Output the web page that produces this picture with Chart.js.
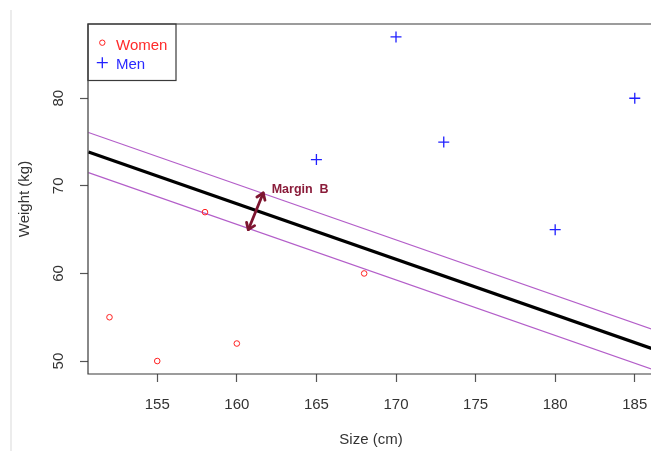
<!DOCTYPE html>
<html>
<head>
<meta charset="utf-8">
<script src="https://cdn.jsdelivr.net/npm/chart.js@4/dist/chart.umd.min.js"></script>
<style>
  html, body { margin: 0; padding: 0; background: #fff; overflow: hidden; }
  #wrap { position: relative; width: 651px; height: 451px; overflow: hidden; background: #fff; }
  #edge { position: absolute; left: 10px; top: 10px; width: 2px; height: 441px; background: #ececec; }
  canvas { position: absolute; left: 0; top: 0; }
</style>
</head>
<body>
<div id="wrap">
  <div id="edge"></div>
  <canvas id="c" width="651" height="451" style="width:651px;height:451px"></canvas>
</div>
<script>
// ---- data ----
const seriesNames = ["Women", "Men"];
const womenSize = [152, 155, 158, 160, 168];
const womenWeight = [55, 50, 67, 52, 60];
const menSize = [165, 170, 173, 180, 185];
const menWeight = [73, 87, 75, 65, 80];
const xTicks = [155, 160, 165, 170, 175, 180, 185];
const yTicks = [50, 60, 70, 80];
const xRange = [150.65, 186.02];   // visible part of the x range
const yRange = [48.52, 88.48];
const lineX = [150.68, 186.32];
const centerLine = [73.87, 51.27];
const upperMargin = [76.09, 53.49];
const lowerMargin = [71.51, 48.91];
const arrowSize = [161.66, 160.72];
const arrowWeight = [69.19, 65.0];
const marginLabel = "Margin  B";
const marginLabelAt = [162.19, 69.6];
const xTitle = "Size (cm)";
const yTitle = "Weight (kg)";

const pts = (xs, ys) => xs.map((x, i) => ({ x: x, y: ys[i] }));
const FONT = '"Liberation Sans", Arial, sans-serif';
const TXT = '#333333';

const overlay = {
  id: 'overlay',
  afterDraw(chart) {
    const ctx = chart.ctx;
    const a = chart.chartArea;
    const xs = chart.scales.x, ys = chart.scales.y;
    ctx.save();
    // box (right side is outside the picture)
    ctx.strokeStyle = '#3a3a3a';
    ctx.lineWidth = 1.2;
    ctx.beginPath();
    ctx.moveTo(a.right + 2, a.top);
    ctx.lineTo(a.left, a.top);
    ctx.lineTo(a.left, a.bottom);
    ctx.lineTo(a.right + 2, a.bottom);
    ctx.stroke();

    // tick labels
    ctx.fillStyle = TXT;
    ctx.font = '15px ' + FONT;
    ctx.textAlign = 'center';
    ctx.textBaseline = 'middle';
    xTicks.forEach(v => {
      ctx.fillText(String(v), xs.getPixelForValue(v), 404.5);
    });
    yTicks.forEach(v => {
      ctx.save();
      ctx.translate(58.8, ys.getPixelForValue(v));
      ctx.rotate(-Math.PI / 2);
      ctx.fillText(String(v), 0, 0);
      ctx.restore();
    });
    // axis titles
    ctx.save();
    ctx.translate(24.7, (a.top + a.bottom) / 2);
    ctx.rotate(-Math.PI / 2);
    ctx.fillText(yTitle, 0, 0);
    ctx.restore();
    ctx.fillText(xTitle, 371, 440);

    // legend
    const lx = a.left, ly = a.top;
    ctx.strokeStyle = '#3a3a3a';
    ctx.lineWidth = 1.2;
    ctx.strokeRect(lx, ly, 88, 56.5);
    ctx.lineWidth = 1;
    ctx.strokeStyle = '#ff2020';
    ctx.beginPath(); ctx.arc(lx + 14.3, ly + 18.7, 2.7, 0, Math.PI * 2); ctx.stroke();
    ctx.strokeStyle = '#2020ff';
    ctx.lineWidth = 1.3;
    ctx.beginPath();
    ctx.moveTo(lx + 14.3 - 5.5, ly + 38.7); ctx.lineTo(lx + 14.3 + 5.5, ly + 38.7);
    ctx.moveTo(lx + 14.3, ly + 38.7 - 5.5); ctx.lineTo(lx + 14.3, ly + 38.7 + 5.5);
    ctx.stroke();
    ctx.textAlign = 'left';
    ctx.textBaseline = 'alphabetic';
    ctx.font = '15px ' + FONT;
    ctx.fillStyle = '#ff2a2a';
    ctx.fillText(seriesNames[0], lx + 28, ly + 25.5);
    ctx.fillStyle = '#2a2aff';
    ctx.fillText(seriesNames[1], lx + 28, ly + 44.5);

    // arrow
    const x1 = xs.getPixelForValue(arrowSize[0]), y1 = ys.getPixelForValue(arrowWeight[0]);
    const x2 = xs.getPixelForValue(arrowSize[1]), y2 = ys.getPixelForValue(arrowWeight[1]);
    ctx.strokeStyle = '#7d1530';
    ctx.lineWidth = 2.8;
    ctx.lineCap = 'round';
    ctx.lineJoin = 'round';
    ctx.beginPath(); ctx.moveTo(x1, y1); ctx.lineTo(x2, y2); ctx.stroke();
    const head = (hx, hy, fx, fy) => {
      const ang = Math.atan2(hy - fy, hx - fx);
      const L = 7.5, w = 0.62;
      ctx.beginPath();
      ctx.moveTo(hx - L * Math.cos(ang - w), hy - L * Math.sin(ang - w));
      ctx.lineTo(hx, hy);
      ctx.lineTo(hx - L * Math.cos(ang + w), hy - L * Math.sin(ang + w));
      ctx.stroke();
    };
    head(x1, y1, x2, y2);
    head(x2, y2, x1, y1);
    ctx.fillStyle = '#8a1c3a';
    ctx.font = 'bold 12.5px ' + FONT;
    ctx.textAlign = 'left';
    ctx.textBaseline = 'middle';
    ctx.fillText(marginLabel, xs.getPixelForValue(marginLabelAt[0]), ys.getPixelForValue(marginLabelAt[1]));
    ctx.restore();
  }
};

new Chart(document.getElementById('c'), {
  type: 'scatter',
  data: {
    datasets: [
      { label: 'upper', type: 'line', data: pts(lineX, upperMargin), borderColor: '#b35ec9', borderWidth: 1.1, pointRadius: 0, fill: false, order: 3 },
      { label: 'lower', type: 'line', data: pts(lineX, lowerMargin), borderColor: '#b35ec9', borderWidth: 1.1, pointRadius: 0, fill: false, order: 3 },
      { label: 'center', type: 'line', data: pts(lineX, centerLine), borderColor: '#000000', borderWidth: 3.2, pointRadius: 0, fill: false, order: 2 },
      { label: seriesNames[0], data: pts(womenSize, womenWeight), pointStyle: 'circle', pointRadius: 2.8, borderColor: '#ff2020', backgroundColor: 'rgba(0,0,0,0)', borderWidth: 1, order: 1 },
      { label: seriesNames[1], data: pts(menSize, menWeight), pointStyle: 'cross', pointRadius: 5.5, borderColor: '#2020ff', backgroundColor: '#2020ff', borderWidth: 1.3, order: 1 }
    ]
  },
  options: {
    responsive: false,
    animation: false,
    devicePixelRatio: 1,
    layout: { autoPadding: false, padding: { top: 24, left: 0, right: 0, bottom: 0 } },
    plugins: { legend: { display: false }, tooltip: { enabled: false } },
    scales: {
      x: {
        type: 'linear', min: xRange[0], max: xRange[1],
        afterBuildTicks: s => { s.ticks = xTicks.map(v => ({ value: v })); },
        afterFit: s => { s.height = 77; },
        grid: { drawOnChartArea: false, drawTicks: true, tickLength: 8, color: '#555', tickWidth: 1.2 },
        border: { display: false },
        ticks: { display: false }
      },
      y: {
        type: 'linear', min: yRange[0], max: yRange[1],
        afterBuildTicks: s => { s.ticks = yTicks.map(v => ({ value: v })); },
        afterFit: s => { s.width = 88; },
        grid: { drawOnChartArea: false, drawTicks: true, tickLength: 8, color: '#555', tickWidth: 1.2 },
        border: { display: false },
        ticks: { display: false }
      }
    }
  },
  plugins: [overlay]
});
</script>
</body>
</html>
